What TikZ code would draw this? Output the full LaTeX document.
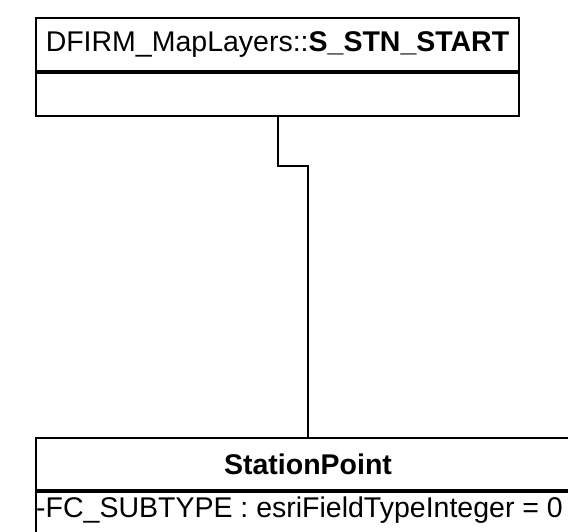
\documentclass[tikz,border=0pt]{standalone}
\usepackage{fontspec}
\setmainfont{Liberation Sans}
\begin{document}
\begin{tikzpicture}[x=1pt,y=-1pt,
  box/.style={draw, line width=2pt, rectangle, inner sep=0pt, anchor=north west},
  lbl/.style={font=\fontsize{28.5}{30}\selectfont, inner sep=0pt},
  conn/.style={line width=2pt}]
\useasboundingbox (0,0) rectangle (568,531);
\clip (0,0) rectangle (568,531);
% top class
\node[box, minimum width=483pt, minimum height=53pt] (toptitle) at (35,17) {};
\node[box, minimum width=483pt, minimum height=43pt] (topattr) at (toptitle.south west) {};
\node[lbl] (toptext) at (toptitle.center) {DFIRM\_MapLayers::\textbf{S\_STN\_START}};
% bottom class
\node[box, minimum width=544pt, minimum height=52pt] (bottitle) at (35,437) {};
\node[box, minimum width=544pt, minimum height=60pt] (botattr) at (bottitle.south west) {};
\node[lbl, font=\bfseries\fontsize{28.5}{30}\selectfont] (bottext) at (bottitle.center) {StationPoint};
\node[lbl, anchor=base west] (attrtext) at (36,517) {-FC\_SUBTYPE : esriFieldTypeInteger = 0};
% connector
\draw[conn] (topattr.south) -- ++(0,49) -| (bottitle.north);
\end{tikzpicture}
\end{document}
